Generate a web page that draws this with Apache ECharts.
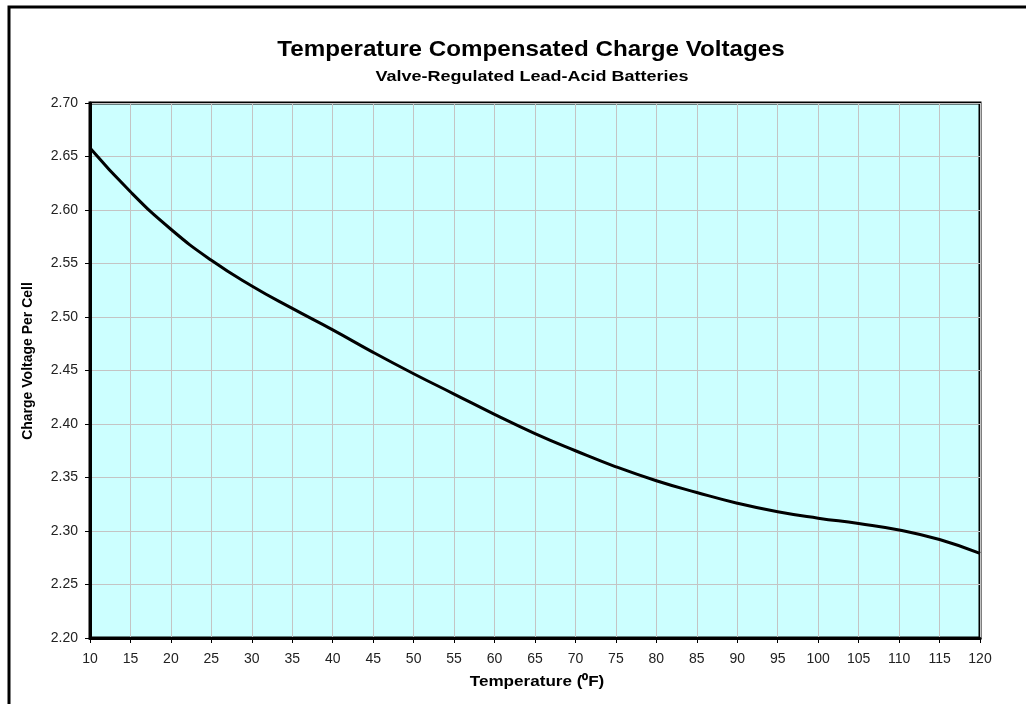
<!DOCTYPE html>
<html>
<head>
<meta charset="UTF-8">
<title>Temperature Compensated Charge Voltages</title>
<script src="https://cdn.jsdelivr.net/npm/echarts@6/dist/echarts.min.js"></script>
<style>
  body { margin: 0; background: #fff; }
  #chart { width: 1026px; height: 704px; }
</style>
</head>
<body>
<div id="chart"></div>
<script>
// temperature in deg F
var temps = [10, 15, 20, 25, 30, 35, 40, 45, 50, 55, 60, 65, 70, 75, 80, 85, 90, 95, 100, 105, 110, 115, 120];
// charge voltage per cell
var volts = [2.658, 2.617, 2.582, 2.553, 2.529, 2.508, 2.488, 2.467, 2.447, 2.428, 2.409, 2.391,
             2.375, 2.360, 2.347, 2.336, 2.326, 2.318, 2.312, 2.307, 2.301, 2.292, 2.279];

var titleText = "Temperature Compensated Charge Voltages";
var subText = "Valve-Regulated Lead-Acid Batteries";
var xTitle = "Temperature (\u2070F)";
var yTitle = "Charge Voltage Per Cell";

var FONT = "'Liberation Sans', Arial, sans-serif";

var points = [];
for (var i = 0; i < temps.length; i++) {
    points.push([temps[i], volts[i]]);
}

function label(text, x, y, font, sx, rot) {
    return {
        type: "text", x: x, y: y, scaleX: sx || 1, rotation: rot || 0,
        style: { text: text, font: font, fill: "#000",
                 textAlign: "center", textVerticalAlign: "middle", align: "center", verticalAlign: "middle" }
    };
}

var chart = echarts.init(document.getElementById("chart"));
chart.setOption({
    animation: false,
    backgroundColor: "#fff",
    grid: {
        left: 90, right: 46, top: 103, bottom: 66,
        show: true,
        backgroundColor: "#ccffff",
        borderColor: "#000",
        borderWidth: 3
    },
    xAxis: {
        type: "value",
        min: 10, max: 120, interval: 5,
        axisLine: { show: true, onZero: false, lineStyle: { color: "#000", width: 3 } },
        axisTick: { show: true, length: 5, lineStyle: { color: "#000", width: 1 } },
        axisLabel: { margin: 14, color: "#222", fontSize: 14, fontFamily: FONT },
        splitLine: { show: true, lineStyle: { color: "#c4c4c4", width: 1 } }
    },
    yAxis: {
        type: "value",
        min: 2.2, max: 2.7, interval: 0.05,
        axisLine: { show: true, lineStyle: { color: "#000", width: 3 } },
        axisTick: { show: true, length: 5, lineStyle: { color: "#000", width: 1 } },
        axisLabel: {
            margin: 12, color: "#222", fontSize: 14, fontFamily: FONT,
            formatter: function (v) { return v.toFixed(2); }
        },
        splitLine: { show: true, lineStyle: { color: "#c4c4c4", width: 1 } }
    },
    series: [{
        type: "line",
        data: points,
        smooth: 0.5,
        showSymbol: false,
        lineStyle: { color: "#000", width: 3 }
    }],
    graphic: [
        {
            type: "rect",
            shape: { x: 9, y: 7, width: 1100, height: 800 },
            style: { fill: "none", stroke: "#000", lineWidth: 3 },
            silent: true
        },
        label(titleText, 531, 50, "bold 22px " + FONT, 1.1),
        label(subText, 532, 77, "bold 15px " + FONT, 1.2),
        label(xTitle, 537, 682, "bold 15px " + FONT, 1.14),
        label(yTitle, 28, 361, "bold 14px " + FONT, 1, Math.PI / 2)
    ]
});
</script>
</body>
</html>
